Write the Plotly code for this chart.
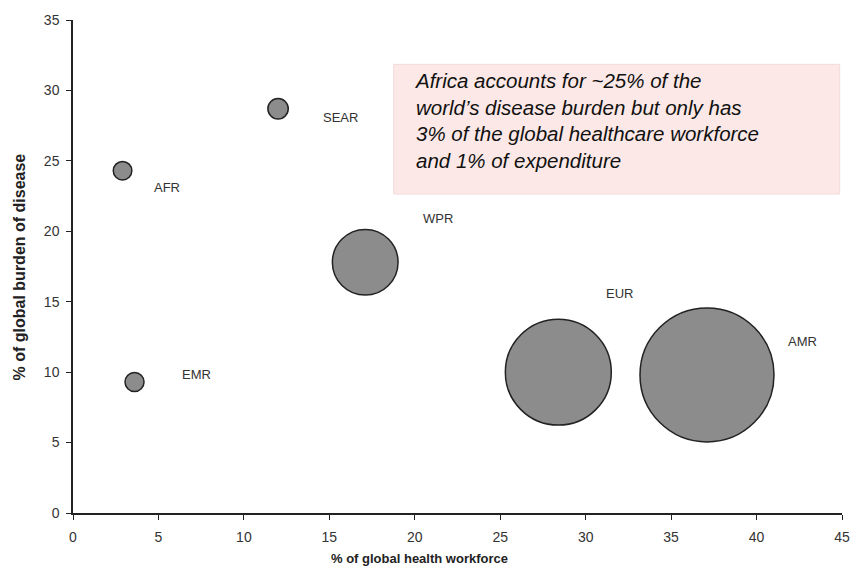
import plotly.graph_objects as go

# WHO regions: share of global health workforce vs share of global burden of disease,
# bubble area = share of global health expenditure
regions = ["AFR", "EMR", "SEAR", "WPR", "EUR", "AMR"]
workforce_pct = [2.9, 3.6, 12.0, 17.1, 28.4, 37.1]
disease_burden_pct = [24.3, 9.3, 28.7, 17.8, 10.0, 9.8]
expenditure_pct = [1.0, 1.05, 1.2, 12.5, 32.5, 52.0]

x_ticks = [0, 5, 10, 15, 20, 25, 30, 35, 40, 45]
y_ticks = [0, 5, 10, 15, 20, 25, 30, 35]

# pixel offsets of each region label from its bubble centre
label_dx = [44, 62, 62, 73, 61, 95]
label_dy = [-17, 8, -9, 44, 79, 33]

FONT = "Liberation Sans, Arial, sans-serif"
MAX_BUBBLE_PX = 134

fig = go.Figure()
fig.add_trace(go.Scatter(
    x=workforce_pct,
    y=disease_burden_pct,
    mode="markers",
    text=regions,
    marker=dict(
        size=expenditure_pct,
        sizemode="area",
        sizeref=2.0 * max(expenditure_pct) / MAX_BUBBLE_PX ** 2,
        color="#8c8c8c",
        line=dict(color="#222222", width=1.5),
        opacity=1,
    ),
    hovertemplate="%{text}<br>Workforce: %{x}%<br>Burden: %{y}%<extra></extra>",
    showlegend=False,
    cliponaxis=False,
))

for name, x, y, dx, dy in zip(regions, workforce_pct, disease_burden_pct, label_dx, label_dy):
    fig.add_annotation(
        x=x, y=y, xref="x", yref="y", text=name, showarrow=False,
        xshift=dx, yshift=dy,
        font=dict(family=FONT, size=13, color="#333333"),
    )

# callout box
fig.add_shape(
    type="rect", xref="paper", yref="paper",
    x0=0.417, x1=0.997, y0=0.647, y1=0.910,
    fillcolor="#fce9e7", line=dict(color="#f2dcda", width=1), layer="below",
)
fig.add_annotation(
    xref="paper", yref="paper", x=0.441, y=0.905, xanchor="left", yanchor="top",
    align="left", showarrow=False,
    text=("<i>Africa accounts for ~25% of the<br>"
          "world\u2019s disease burden but only has<br>"
          "3% of the global healthcare workforce<br>"
          "and 1% of expenditure</i>"),
    font=dict(family=FONT, size=20.5, color="#111111"),
)

# axis titles
fig.add_annotation(
    xref="paper", yref="paper", x=0.451, y=-0.093, xanchor="center", yanchor="middle",
    text="<b>% of global health workforce</b>", showarrow=False,
    font=dict(family=FONT, size=13, color="#222222"),
)
fig.add_annotation(
    xref="paper", yref="paper", x=-0.069, y=0.5, xanchor="center", yanchor="middle",
    text="<b>% of global burden of disease</b>", showarrow=False, textangle=-90,
    font=dict(family=FONT, size=16, color="#222222"),
)

axis_common = dict(
    showgrid=False, zeroline=False, showline=True, linecolor="#222222", linewidth=1.5,
    ticks="outside", ticklen=5, tickwidth=1.2, tickcolor="#222222",
    tickfont=dict(family=FONT, size=14, color="#333333"),
)
fig.update_xaxes(range=[0, 45], tickvals=x_ticks, ticklabelstandoff=5, **axis_common)
fig.update_yaxes(range=[0, 35], tickvals=y_ticks, ticklabelstandoff=4, **axis_common)

fig.update_layout(
    width=862, height=573,
    margin=dict(l=73, r=17, t=14, b=60),
    paper_bgcolor="white", plot_bgcolor="white",
    font=dict(family=FONT),
)

fig.write_html("out.html")
